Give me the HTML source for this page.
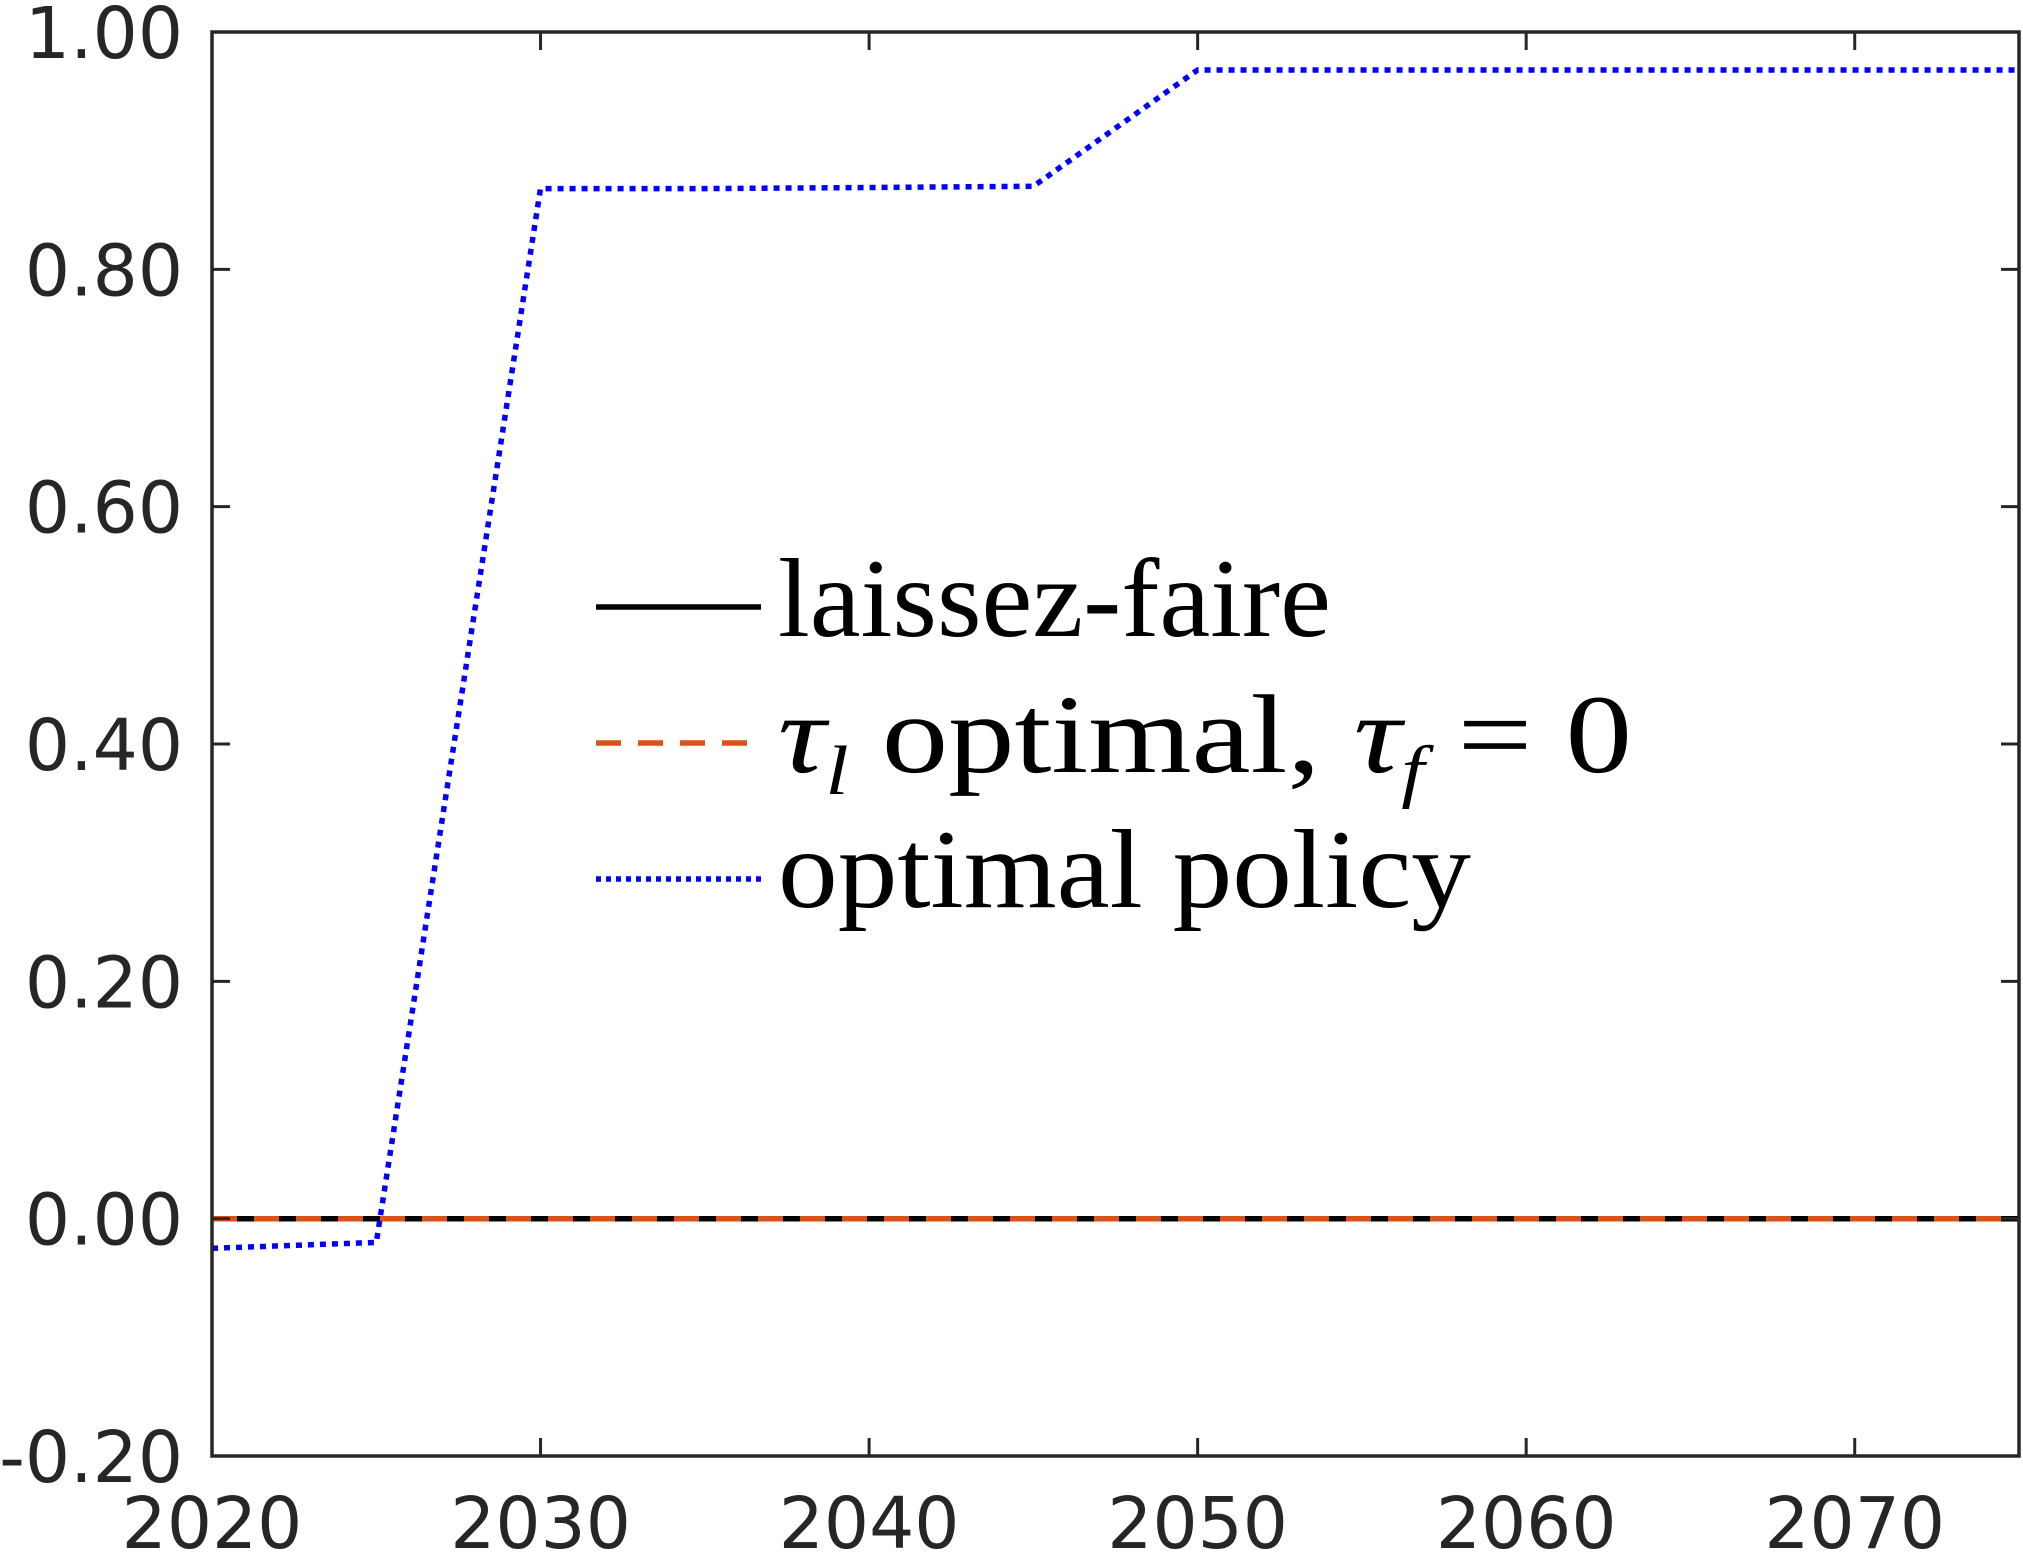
<!DOCTYPE html>
<html><head><meta charset="utf-8"><style>
html,body{margin:0;padding:0;background:#fff;}
svg{display:block;}
</style></head><body>
<svg id="chart" width="2023" height="1554" viewBox="0 0 2023 1554" xmlns="http://www.w3.org/2000/svg">
<g id="series"></g>
<g id="axes"></g>
<g id="legend">
  <line x1="596" y1="607" x2="761" y2="607" stroke="#000" stroke-width="5.5"/>
  <text x="778" y="636" font-family="Liberation Serif, serif" font-size="112" textLength="553" lengthAdjust="spacingAndGlyphs">laissez-faire</text>
  <line x1="596" y1="743" x2="761" y2="743" stroke="#D95319" stroke-width="5.5" stroke-dasharray="25,17"/>
  <text x="778" y="772" font-family="Liberation Serif, serif" font-size="112" textLength="854" lengthAdjust="spacingAndGlyphs"><tspan font-style="italic">τ</tspan><tspan font-style="italic" font-size="70" dy="22">l</tspan><tspan dy="-22"> optimal, </tspan><tspan font-style="italic">τ</tspan><tspan font-style="italic" font-size="70" dy="22">f</tspan><tspan dy="-22"> = 0</tspan></text>
  <line x1="596" y1="879" x2="761" y2="879" stroke="#0000ff" stroke-width="5.5" stroke-dasharray="5,5"/>
  <text x="778" y="907" font-family="Liberation Serif, serif" font-size="112" textLength="693" lengthAdjust="spacingAndGlyphs">optimal policy</text>
</g>
</svg>
<script>
const years = [2020, 2025, 2030, 2035, 2040, 2045, 2050, 2055, 2060, 2065, 2070, 2075];
const laissezFaire = [0,0,0,0,0,0,0,0,0,0,0,0];
const tauLOptimal = [0,0,0,0,0,0,0,0,0,0,0,0];
const optimalPolicy = [-0.025,-0.02,0.868,0.868,0.869,0.87,0.968,0.968,0.968,0.968,0.968,0.968];
const xTicks = [2020, 2030, 2040, 2050, 2060, 2070];
const yTicks = [-0.2, 0, 0.2, 0.4, 0.6, 0.8, 1.0];
const yTickLabels = ["-0.20","0.00","0.20","0.40","0.60","0.80","1.00"];

const L=212,R=2019,T=32,B=1456;
const xMin=2020,xMax=2075,yMin=-0.2,yMax=1.0;
function sx(v){return L+(v-xMin)/(xMax-xMin)*(R-L);}
function sy(v){return B-(v-yMin)/(yMax-yMin)*(B-T);}
const NS="http://www.w3.org/2000/svg";
function mk(tag,attrs,parent){const e=document.createElementNS(NS,tag);for(const k in attrs)e.setAttribute(k,attrs[k]);parent.appendChild(e);return e;}
const series=document.getElementById('series');
const axes=document.getElementById('axes');
function path(vals){return vals.map((v,i)=>(i?'L':'M')+sx(years[i]).toFixed(1)+','+sy(v).toFixed(1)).join(' ');}

let p1=mk('path',{d:path(laissezFaire),fill:'none',stroke:'#000','stroke-width':5.5},series);


let p2=mk('path',{d:path(tauLOptimal),fill:'none',stroke:'#D95319','stroke-width':5.5,'stroke-dasharray':'25,17'},series);


let p3=mk('path',{d:path(optimalPolicy),fill:'none',stroke:'#0000ff','stroke-width':5.5,'stroke-dasharray':'6,6'},series);



let box=mk('rect',{x:L,y:T,width:R-L,height:B-T,fill:'none',stroke:'#262626','stroke-width':3.5},axes);


const tl=18;
xTicks.forEach(v=>{
  const x=sx(v);
  let t1=mk('line',{x1:x,y1:B,x2:x,y2:B-tl,stroke:'#262626','stroke-width':3},axes);
  
  
  let t2=mk('line',{x1:x,y1:T,x2:x,y2:T+tl,stroke:'#262626','stroke-width':3},axes);
  
  
  let tx=mk('text',{x:x,y:1548,'text-anchor':'middle','font-family':'DejaVu Sans, sans-serif','font-size':71,fill:'#262626'},axes);
  tx.textContent=String(v);
  
  
});
yTicks.forEach((v,i)=>{
  const y=sy(v);
  let t1=mk('line',{x1:L,y1:y,x2:L+tl,y2:y,stroke:'#262626','stroke-width':3},axes);
  
  
  let t2=mk('line',{x1:R,y1:y,x2:R-tl,y2:y,stroke:'#262626','stroke-width':3},axes);
  
  
  let tx=mk('text',{x:183,y:y+26,'text-anchor':'end','font-family':'DejaVu Sans, sans-serif','font-size':71,fill:'#262626'},axes);
  tx.textContent=yTickLabels[i];
  
  
});
</script>
</body></html>
